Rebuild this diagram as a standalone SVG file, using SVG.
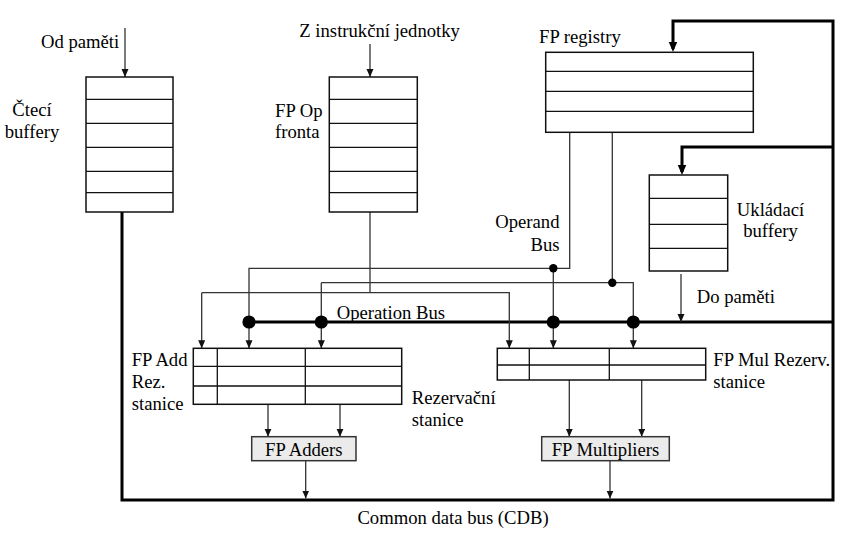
<svg xmlns="http://www.w3.org/2000/svg" width="841" height="534" viewBox="0 0 841 534">
<style>
  text { font-family: "Liberation Serif", "Times New Roman", serif; font-size: 18.67px; fill: #000; }
  .box { fill: #fff; stroke: #111; stroke-width: 1.5; }
  .row { stroke: #111; stroke-width: 1.3; fill: none; }
  .fu { fill: #ebebeb; stroke: #333; stroke-width: 1.5; }
  .thin { fill: none; stroke: #333; stroke-width: 1.3; }
  .thick { fill: none; stroke: #000; stroke-width: 3; }
  .mid { text-anchor: middle; }
  .end { text-anchor: end; }
</style>
<defs>
  <marker id="a" markerUnits="userSpaceOnUse" markerWidth="9" markerHeight="8" refX="8" refY="3.5" orient="auto">
    <path d="M0,0 L8,3.5 L0,7 z" fill="#111"/>
  </marker>
  <marker id="A" markerUnits="userSpaceOnUse" markerWidth="11" markerHeight="9" refX="7" refY="4.25" orient="auto">
    <path d="M0,0 L10,4.25 L0,8.5 z" fill="#000"/>
  </marker>
</defs>
<rect width="841" height="534" fill="#fff"/>

<g id="connectors">
  <line class="thin" x1="125" y1="28" x2="125" y2="77" marker-end="url(#a)"/>
  <line class="thin" x1="370" y1="44" x2="370" y2="77" marker-end="url(#a)"/>
  <polyline class="thick" points="122,212 122,500 833,500 833,21 673,21 673,49" marker-end="url(#A)"/>
  <polyline class="thick" points="833,147 682,147 682,172" marker-end="url(#A)"/>
  <line class="thick" x1="249" y1="322" x2="833" y2="322"/>
  <line class="thin" x1="681" y1="274" x2="681" y2="322" marker-end="url(#a)"/>
  <polyline class="thin" points="569.7,132 569.7,268.3 249,268.3 249,348.3" marker-end="url(#a)"/>
  <line class="thin" x1="553.3" y1="268.3" x2="553.3" y2="348.3" marker-end="url(#a)"/>
  <line class="thin" x1="612.3" y1="132" x2="612.3" y2="282.7"/>
  <polyline class="thin" points="321.3,282.7 633.3,282.7 633.3,348.3" marker-end="url(#a)"/>
  <line class="thin" x1="321.3" y1="282.7" x2="321.3" y2="348.3" marker-end="url(#a)"/>
  <line class="thin" x1="370" y1="212" x2="370" y2="292.7"/>
  <polyline class="thin" points="201.7,292.7 509.3,292.7 509.3,348.3" marker-end="url(#a)"/>
  <line class="thin" x1="201.7" y1="292.7" x2="201.7" y2="348.3" marker-end="url(#a)"/>
  <line class="thin" x1="268" y1="404.3" x2="268" y2="436.7" marker-end="url(#a)"/>
  <line class="thin" x1="340" y1="404.3" x2="340" y2="436.7" marker-end="url(#a)"/>
  <line class="thin" x1="569.3" y1="380" x2="569.3" y2="436.7" marker-end="url(#a)"/>
  <line class="thin" x1="641.7" y1="380" x2="641.7" y2="436.7" marker-end="url(#a)"/>
  <line class="thin" x1="305.7" y1="460.7" x2="305.7" y2="498.5" marker-end="url(#a)"/>
  <line class="thin" x1="610" y1="460.7" x2="610" y2="498.5" marker-end="url(#a)"/>
  <circle cx="553.3" cy="268.3" r="4.2" fill="#000"/>
  <circle cx="612.3" cy="282.7" r="4.2" fill="#000"/>
  <circle cx="249" cy="322" r="6.6" fill="#000"/>
  <circle cx="321.3" cy="322" r="6.6" fill="#000"/>
  <circle cx="553.3" cy="322" r="6.6" fill="#000"/>
  <circle cx="633.3" cy="322" r="6.6" fill="#000"/>
</g>

<g id="read-buffers">
  <rect class="box" x="86" y="77" width="87" height="135"/>
  <path class="row" d="M86,99.3H173 M86,123.3H173 M86,147.3H173 M86,171.3H173 M86,192.7H173"/>
  <text x="41" y="48">Od paměti</text>
  <text class="mid" x="32" y="116">Čtecí</text>
  <text class="mid" x="32" y="138">buffery</text>
</g>

<g id="fp-op-queue">
  <rect class="box" x="329.3" y="77" width="88" height="135"/>
  <path class="row" d="M329.3,99.3H417.3 M329.3,123.3H417.3 M329.3,147.3H417.3 M329.3,171.3H417.3 M329.3,192.7H417.3"/>
  <text x="299.3" y="37.3">Z instrukční jednotky</text>
  <text x="275" y="116.7">FP Op</text>
  <text x="275" y="138">fronta</text>
</g>

<g id="fp-registers">
  <rect class="box" x="545.7" y="52.3" width="207.6" height="80"/>
  <path class="row" d="M545.7,71.3H753.3 M545.7,91.3H753.3 M545.7,111.3H753.3"/>
  <text x="539" y="43.3">FP registry</text>
</g>

<g id="store-buffers">
  <rect class="box" x="649.3" y="175" width="78.4" height="96"/>
  <path class="row" d="M649.3,198.3H727.7 M649.3,224.3H727.7 M649.3,248.3H727.7"/>
  <text class="mid" x="770.5" y="215.7">Ukládací</text>
  <text class="mid" x="770.5" y="237">buffery</text>
  <text x="696.7" y="302.7">Do paměti</text>
</g>

<g id="bus-labels">
  <text class="end" x="559.5" y="228.3">Operand</text>
  <text class="end" x="559.5" y="250.7">Bus</text>
  <text x="336.7" y="318.7">Operation Bus</text>
  <text class="mid" x="453" y="524">Common data bus (CDB)</text>
</g>

<g id="add-rs">
  <rect class="box" x="193.3" y="348.3" width="208.4" height="56"/>
  <path class="row" d="M193.3,366.3H401.7 M193.3,386H401.7 M217.3,348.3V404.3 M305.3,348.3V404.3"/>
  <text x="131.7" y="366">FP Add</text>
  <text x="131.7" y="388">Rez.</text>
  <text x="131.7" y="410">stanice</text>
  <text x="411.7" y="404.3">Rezervační</text>
  <text x="411.7" y="426">stanice</text>
</g>

<g id="mul-rs">
  <rect class="box" x="497.3" y="348.3" width="208.4" height="31.7"/>
  <path class="row" d="M497.3,365H705.7 M529.3,348.3V380 M609.3,348.3V380"/>
  <text x="713.3" y="365.7">FP Mul Rezerv.</text>
  <text x="713.3" y="387.7">stanice</text>
</g>

<g id="fp-adders">
  <rect class="fu" x="251.7" y="436.7" width="104.3" height="24"/>
  <text class="mid" x="303.8" y="456">FP Adders</text>
</g>

<g id="fp-multipliers">
  <rect class="fu" x="541.7" y="436.7" width="127.6" height="24"/>
  <text class="mid" x="605.5" y="456">FP Multipliers</text>
</g>
</svg>
